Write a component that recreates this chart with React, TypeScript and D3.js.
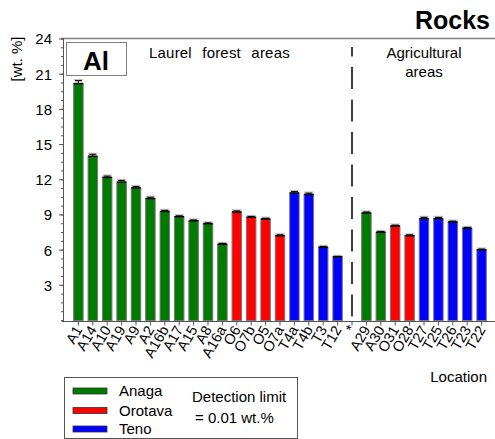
import React from "react";
import * as d3 from "d3";

// Sampling locations in plotting order; "*" marks the separator slot
const locations = [
  "A1", "A14", "A10", "A19", "A9", "A2", "A16b", "A17", "A15", "A8", "A16a",
  "O6", "O7b", "O5", "O7a", "T4a", "T4b", "T3", "T12", "*",
  "A29", "A30", "O31", "O28", "T27", "T25", "T26", "T23", "T22",
];
const regions = [
  "Anaga", "Anaga", "Anaga", "Anaga", "Anaga", "Anaga", "Anaga", "Anaga", "Anaga", "Anaga", "Anaga",
  "Orotava", "Orotava", "Orotava", "Orotava", "Teno", "Teno", "Teno", "Teno", null,
  "Anaga", "Anaga", "Orotava", "Orotava", "Teno", "Teno", "Teno", "Teno", "Teno",
];
// Al content [wt.%]
const alValues = [
  20.2, 14.0, 12.2, 11.8, 11.3, 10.4, 9.3, 8.85, 8.5, 8.25, 6.5,
  9.25, 8.8, 8.65, 7.23, 10.87, 10.75, 6.24, 5.42, null,
  9.16, 7.52, 8.06, 7.23, 8.68, 8.68, 8.4, 7.86, 6.04,
];
const alErrors = [
  0.25, 0.18, 0.12, 0.15, 0.12, 0.12, 0.1, 0.08, 0.08, 0.08, 0.08,
  0.1, 0.08, 0.08, 0.08, 0.12, 0.12, 0.08, 0.06, null,
  0.1, 0.08, 0.08, 0.08, 0.12, 0.12, 0.08, 0.08, 0.06,
];
const yMajorTicks = [3, 6, 9, 12, 15, 18, 21, 24];
const legendRegions = ["Anaga", "Orotava", "Teno"];
const regionColors = ["#007a00", "#ff0000", "#0000ff"];

const FONT = "'Liberation Sans', Arial, sans-serif";

export default function App() {
  const W = 495;
  const H = 439;
  const x = d3.scaleLinear().domain([-1, 29]).range([64, 496]);
  const y = d3.scaleLinear().domain([0, 24]).range([320.5, 39]);
  const color = d3.scaleOrdinal<string, string>().domain(legendRegions).range(regionColors);
  const minorTicks = d3.range(0, 24.001, 0.75);
  const barW = 9.5;
  const sepIndex = locations.indexOf("*");
  const axisColor = "#555";

  return (
    <div style={{ position: "fixed", left: 0, top: 0 }}>
      <svg width={W} height={H} style={{ display: "block", background: "#fff" }} fontFamily={FONT}>
        {/* title */}
        <text x={490} y={28.5} textAnchor="end" fontSize={25} fontWeight="bold" fill="#000">
          Rocks
        </text>

        {/* frame top line */}
        <line x1={61} x2={W} y1={38.5} y2={38.5} stroke="#808080" strokeWidth={1.6} />

        {/* y axis */}
        <line x1={63.5} x2={63.5} y1={38} y2={322} stroke={axisColor} strokeWidth={1} />
        {minorTicks.map((t) => (
          <line key={"mn" + t} x1={61} x2={63.5} y1={y(t)} y2={y(t)} stroke={axisColor} strokeWidth={1} />
        ))}
        {yMajorTicks.map((t) => (
          <g key={"mj" + t}>
            <line x1={59} x2={63.5} y1={y(t)} y2={y(t)} stroke={axisColor} strokeWidth={1} />
            <text x={52} y={y(t)} dy="0.36em" textAnchor="end" fontSize={15} fill="#000">
              {t}
            </text>
          </g>
        ))}
        <text
          transform={`translate(17,59) rotate(-90)`}
          textAnchor="middle"
          dy="0.35em"
          fontSize={15}
          fill="#000"
        >
          [wt. %]
        </text>

        {/* x axis */}
        <line x1={62} x2={W} y1={321.5} y2={321.5} stroke={axisColor} strokeWidth={1.2} />
        {locations.map((loc, i) => (
          <g key={"xt" + loc}>
            <line x1={x(i)} x2={x(i)} y1={321.5} y2={325.5} stroke={axisColor} strokeWidth={1} />
            <text
              transform={`translate(${x(i)},${loc === "*" ? 326 : 327}) rotate(-60)`}
              textAnchor="end"
              dy="0.35em"
              fontSize={14.5}
              fill="#000"
            >
              {loc}
            </text>
          </g>
        ))}
        <text x={487} y={382} textAnchor="end" fontSize={15} fill="#000">
          Location
        </text>

        {/* bars */}
        {alValues.map((v, i) =>
          v == null ? null : (
            <g key={"bar" + i}>
              <rect
                x={x(i) - barW / 2}
                y={y(v)}
                width={barW}
                height={y(0) - y(v)}
                fill={color(regions[i] as string)}
                stroke="#7a7a7a"
                strokeWidth={1}
              />
              <line x1={x(i) - barW / 2} x2={x(i) + barW / 2} y1={y(v)} y2={y(v)} stroke="#000" strokeWidth={1.5} />
              <line
                x1={x(i)}
                x2={x(i)}
                y1={y(v)}
                y2={y(v + (alErrors[i] as number))}
                stroke="#000"
                strokeWidth={1}
              />
              <line
                x1={x(i) - 3.5}
                x2={x(i) + 3.5}
                y1={y(v + (alErrors[i] as number))}
                y2={y(v + (alErrors[i] as number))}
                stroke="#000"
                strokeWidth={1.3}
              />
              <line
                x1={x(i) - barW / 2}
                x2={x(i) + barW / 2}
                y1={y(v + (alErrors[i] as number)) - 1}
                y2={y(v + (alErrors[i] as number)) - 1}
                stroke="#aaa"
                strokeWidth={0.8}
              />
            </g>
          )
        )}

        {/* separator between land-use groups */}
        <line
          x1={x(sepIndex)}
          x2={x(sepIndex)}
          y1={47}
          y2={321}
          stroke="#000"
          strokeWidth={1.5}
          strokeDasharray="22 10.5"
          strokeDashoffset={12.5}
        />

        {/* element box */}
        <rect x={66.5} y={42.5} width={60} height={33} fill="#fff" stroke="#808080" strokeWidth={1} />
        <text x={96} y={69.5} textAnchor="middle" fontSize={26} fontWeight="bold" fill="#000">
          Al
        </text>

        {/* group headings */}
        <text x={149} y={58} fontSize={15} wordSpacing={6} letterSpacing={0.2} fill="#000">
          Laurel forest areas
        </text>
        <text x={424} y={58} textAnchor="middle" fontSize={15} fill="#000">
          Agricultural
        </text>
        <text x={424} y={77} textAnchor="middle" fontSize={15} fill="#000">
          areas
        </text>

        {/* legend */}
        <rect x={64.5} y={377.5} width={233} height={61} fill="#fff" stroke="#555" strokeWidth={1} />
        {legendRegions.map((r, k) => {
          const cy = [391, 410.5, 429][k];
          return (
            <g key={"lg" + r}>
              <rect x={73} y={cy - 3} width={34} height={6} fill={color(r)} stroke="#333" strokeWidth={0.8} />
              <text x={119} y={cy} dy="0.35em" fontSize={15} fill="#000">
                {r}
              </text>
            </g>
          );
        })}
        <text x={192} y={402} fontSize={15} fill="#000">
          Detection limit
        </text>
        <text x={195} y={423} fontSize={15} fill="#000">
          = 0.01 wt.%
        </text>
      </svg>
    </div>
  );
}
